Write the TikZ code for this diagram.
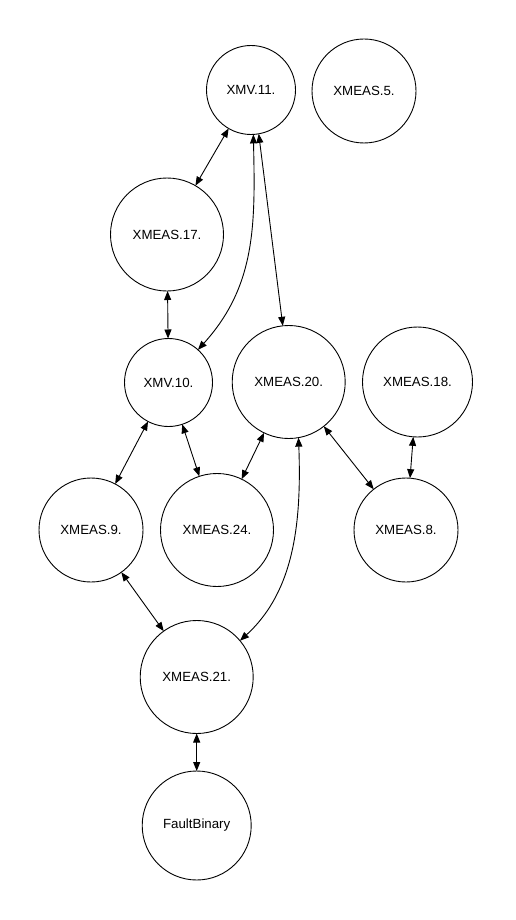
\documentclass[tikz,border=0pt]{standalone}
\usepackage{fontspec}
\setmainfont{Liberation Sans}
\usetikzlibrary{arrows.meta}
\definecolor{GInk}{HTML}{000000}
\tikzset{
  dep/.style={{Triangle[length=9pt,width=7pt]}-{Triangle[length=9pt,width=7pt]},GInk,line width=0.9pt},
  var/.style={circle,draw=GInk,line width=0.9pt,inner sep=0pt,outer sep=0pt,
              text=GInk,font=\fontsize{13.3}{16}\selectfont,align=center},
}
\begin{document}
\begin{tikzpicture}[x=1pt,y=-1pt]
    \useasboundingbox (0,0) rectangle (515,920);
    % upper rows
    \node[var,minimum size=89pt] (xmv11) at (251,90) {XMV.11.};
    \node[var,minimum size=104pt] (xmeas5) at (364,91) {XMEAS.5.};
    \node[var,minimum size=113pt] (xmeas17) at (167,234.5) {XMEAS.17.};
    \node[var,minimum size=88pt] (xmv10) at (168.5,382.5) {XMV.10.};
    \node[var,minimum size=113pt] (xmeas20) at (288.7,382) {XMEAS.20.};
    \node[var,minimum size=110pt] (xmeas18) at (417.5,382) {XMEAS.18.};
    % lower rows
    \node[var,minimum size=104pt] (xmeas9) at (91,530) {XMEAS.9.};
    \node[var,minimum size=113pt] (xmeas24) at (217,530) {XMEAS.24.};
    \node[var,minimum size=104pt] (xmeas8) at (406,530) {XMEAS.8.};
    \node[var,minimum size=113pt] (xmeas21) at (196.7,677) {XMEAS.21.};
    \node[var,minimum size=109pt] (fault) at (196.7,825.5) {FaultBinary};
    % edges
    \draw[dep] (xmv11)--(xmeas17);
    \draw[dep] (xmv11.-87) .. controls +(2,90) and +(58,-64) .. (xmv10.48);
    \draw[dep] (xmv11.-80)--(xmeas20.96);
    \draw[dep] (xmeas17)--(xmv10);
    \draw[dep] (xmv10)--(xmeas9);
    \draw[dep] (xmv10)--(xmeas24);
    \draw[dep] (xmeas20)--(xmeas24);
    \draw[dep] (xmeas20.-80) .. controls +(3,83) and +(55,-50) .. (xmeas21.40);
    \draw[dep] (xmeas20)--(xmeas8);
    \draw[dep] (xmeas18)--(xmeas8);
    \draw[dep] (xmeas9)--(xmeas21);
    \draw[dep] (xmeas21)--(fault);
  \end{tikzpicture}
\end{document}
